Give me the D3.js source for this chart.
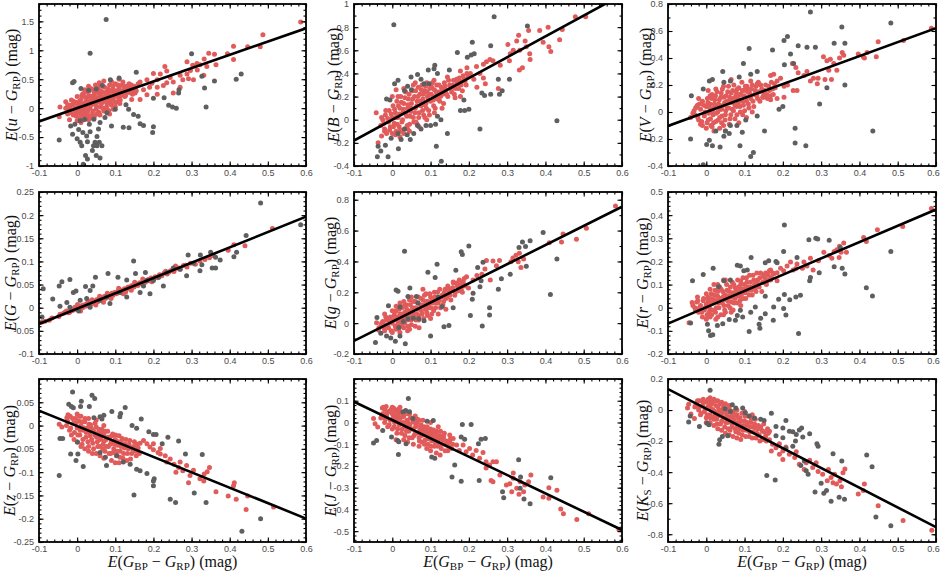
<!DOCTYPE html>
<html>
<head>
<meta charset="utf-8">
<script src="https://cdn.jsdelivr.net/npm/d3@7"></script>
<style>
  html, body { margin: 0; padding: 0; background: #fff; }
  svg { display: block; }
  .tick text { font-family: "Liberation Sans", Arial, sans-serif; font-size: 9px; fill: #4a4a4a; }
  .tick line { stroke: #000; stroke-width: 1.1; }
  .lbl { font-family: "Liberation Serif", "DejaVu Serif", serif; font-size: 16px; fill: #111; }
</style>
</head>
<body>
<svg id="chart" width="941" height="571"></svg>
<script>
// x axis is E(GBP - GRP) for every panel
const xDomain = [-0.1, 0.6];
const xTickLabels = [-0.1, 0, 0.1, 0.2, 0.3, 0.4, 0.5, 0.6];

// panel order: u, B, V / G, g, r / z, J, Ks
const yDomains = [[-1, 1.8], [-0.4, 1], [-0.4, 0.8], [-0.1, 0.25], [-0.2, 0.85], [-0.2, 0.5], [-0.25, 0.1], [-0.55, 0.2], [-0.85, 0.2]];
const yTickLabels = [
  [-1, -0.5, 0, 0.5, 1, 1.5],
  [-0.4, -0.2, 0, 0.2, 0.4, 0.6, 0.8, 1],
  [-0.4, -0.2, 0, 0.2, 0.4, 0.6, 0.8],
  [-0.1, -0.05, 0, 0.05, 0.1, 0.15, 0.2, 0.25],
  [-0.2, 0, 0.2, 0.4, 0.6, 0.8],
  [-0.2, -0.1, 0, 0.1, 0.2, 0.3, 0.4, 0.5],
  [-0.25, -0.2, -0.15, -0.1, -0.05, 0, 0.05],
  [-0.5, -0.4, -0.3, -0.2, -0.1, 0, 0.1],
  [-0.8, -0.6, -0.4, -0.2, 0, 0.2]
];
const yMajorStep = [0.5, 0.2, 0.2, 0.05, 0.2, 0.1, 0.05, 0.1, 0.2];
const yMinorStep = [0.1, 0.1, 0.1, 0.01, 0.1, 0.02, 0.01, 0.02, 0.1];
const bandNames = ['u', 'B', 'V', 'G', 'g', 'r', 'z', 'J', 'K'];
const bandSubs = ['', '', '', '', '', '', '', '', 'S'];
const slopes = [2.3, 1.8, 1.035, 0.331, 1.243, 0.704, -0.331, -0.843, -1.271];
const intercepts = [0.0, 0.0, 0.0, -0.002, 0.009, 0.002, -0.001, 0.011, 0.008];

// ---- E(u - GRP)
const redU = [[-0.045,0.02],[-0.047,-0.15],[-0.03,0.11],[-0.015,0.14],[-0.018,-0.08],[-0.02,-0.2],[0.165,0.45],[0.183,0.49],[0.2,0.6],[0.21,0.49],[0.218,0.59],[0.23,0.72],[0.235,0.64],[0.244,0.53],[0.226,0.39],[0.21,0.36],[0.19,0.36],[0.174,0.32],[0.183,0.23],[0.152,0.26],[0.143,0.15],[0.165,0.15],[0.21,0.24],[0.252,0.26],[0.27,0.36],[0.277,0.49],[0.288,0.8],[0.288,0.59],[0.297,0.65],[0.303,0.74],[0.314,0.77],[0.322,0.75],[0.333,0.85],[0.345,0.95],[0.36,0.93],[0.34,0.72],[0.364,0.75],[0.315,0.66],[0.292,0.51],[0.27,0.57],[0.252,0.45],[0.394,0.94],[0.41,1.07],[0.41,0.84],[0.447,1.06],[0.48,1.06],[0.487,1.27],[0.586,1.49],[0.332,0.57],[0.305,0.49],[0.235,0.44],[0.196,0.43],
  [-0.02,0.05],[-0.015,-0.05],[-0.01,0.12],[-0.01,-0.12],[-0.005,0.0],[0,0.08],[0,-0.08],[0.0,0.2],[0.005,-0.18],[0.008,0.04],[0.01,0.15],[0.012,-0.04],[0.015,0.25],[0.018,0.08],[0.02,-0.12],[0.022,0.0],[0.025,0.18],[0.028,-0.06],[0.03,0.1],[0.032,0.3],[0.035,0.04],[0.038,0.2],[0.04,-0.1],[0.042,0.14],[0.045,0.26],[0.048,0.06],[0.05,-0.02],[0.052,0.18],[0.055,0.34],[0.058,0.1],[0.06,0.22],[0.062,0.02],[0.065,0.28],[0.068,0.15],[0.07,-0.05],[0.072,0.36],[0.075,0.2],[0.078,0.08],[0.08,0.28],[0.083,0.14],[0.085,0.4],[0.088,0.22],[0.09,0.05],[0.093,0.32],[0.095,0.17],[0.098,0.26],[0.1,0.42],[0.102,0.1],[0.105,0.3],[0.108,0.2],[0.11,0.36],[0.113,0.14],[0.116,0.26],[0.12,0.45],[0.122,0.32],[0.125,0.2],[0.128,0.38],[0.132,0.28],[0.136,0.42],[0.14,0.33],[0.145,0.24],[0.15,0.38],[0.155,0.3],[0.16,0.42],[0.0,-0.22],[0.01,-0.25],[0.03,-0.2],[0.045,-0.15],[0.06,-0.12],[0.075,-0.02],[0.085,-0.1],[0.095,-0.02],[-0.03,0.0],[-0.025,-0.1],[0.03,0.38],[0.02,0.32],[0.06,0.4],[0.07,0.47],[0.09,0.46],[0.11,0.5]];
const redUCore = [[-0.025,0.06],[-0.022,-0.04],[-0.018,0.0],[-0.012,0.06],[-0.008,-0.06],[-0.004,0.1],[-0.002,-0.14],[0.002,0.03],[0.004,-0.03],[0.006,0.12],[0.009,-0.1],[0.011,0.07],[0.014,-0.16],[0.016,0.01],[0.019,0.2],[0.021,-0.06],[0.023,0.12],[0.026,0.05],[0.029,-0.13],[0.031,0.22],[0.033,0.0],[0.036,0.15],[0.039,0.07],[0.041,-0.05],[0.043,0.32],[0.046,0.2],[0.049,0.12],[0.051,0.03],[0.054,0.27],[0.057,-0.07],[0.059,0.16],[0.061,0.3],[0.064,0.08],[0.066,0.2],[0.069,0.37],[0.071,0.12],[0.074,0.27],[0.077,0.02],[0.079,0.17],[0.081,0.33],[0.084,0.22],[0.087,0.08],[0.089,0.3],[0.092,0.14],[0.094,0.38],[0.097,0.22],[0.099,0.1],[0.101,0.3],[0.104,0.24],[0.107,0.4],[0.109,0.16],[0.112,0.3],[0.115,0.22],[0.118,0.4],[0.121,0.26],[0.124,0.36],[0.127,0.22],[0.13,0.33],[0.134,0.37],[0.138,0.27],[0.142,0.4],[0.147,0.32],[0.152,0.34],[0.012,0.22],[0.024,0.28],[0.036,0.34],[0.048,0.4],[0.058,0.44],[0.018,-0.2],[0.038,-0.17],[0.052,-0.1],[0.068,0.0],[0.083,-0.04],[0.1,0.03],[0.112,0.08]];
const greyU = [[0.076,1.53],[0.034,0.95],[-0.012,0.44],[-0.008,0.46],[0.01,0.34],[0.03,0.31],[0.05,0.33],[0.066,0.39],[0.11,0.52],[0.087,0.49],[0.155,0.62],[0.3,0.94],[0.327,0.55],[0.36,0.47],[0.43,0.59],[0.417,0.5],[0.334,0.35],[0.338,0.02],[0.2,0.17],[0.228,0.18],[0.24,0.05],[0.25,0.02],[0.26,0.0],[0.267,0.32],[0.266,0.26],[0.2,-0.32],[0.198,-0.42],[0.121,-0.33],[0.136,-0.34],[0.148,-0.11],[0.16,-0.14],[0.165,-0.27],[0.174,-0.3],[0.135,-0.02],[0.128,0.06],[0.1,-0.02],[0.09,-0.31],[0.078,-0.08],[0.073,-0.16],[0.06,-0.25],[0.056,-0.36],[0.052,-0.49],[0.047,-0.59],[0.043,-0.65],[0.04,-0.73],[0.05,-0.82],[0.06,-0.86],[0.027,-0.88],[0.016,-0.97],[0.022,-0.82],[0.012,-0.65],[0.008,-0.59],[0,-0.53],[-0.012,-0.45],[-0.017,-0.31],[-0.006,-0.28],[0.004,-0.37],[0.015,-0.42],[0.025,-0.48],[0.034,-0.41],[0.032,-0.28],[0.044,-0.19],[0.02,-0.19],[0.008,-0.22],[-0.047,-0.55],[0.027,-0.58],[0.052,-0.65],[0.058,-0.59],[0.065,-0.65]];

// ---- E(B - GRP)
const redB = [[-0.042,0.06],[-0.037,-0.2],[-0.028,-0.14],[-0.02,-0.1],[0.238,0.48],[0.246,0.5],[0.255,0.52],[0.263,0.51],[0.229,0.4],[0.238,0.36],[0.243,0.31],[0.22,0.46],[0.277,0.27],[0.302,0.65],[0.308,0.57],[0.316,0.6],[0.325,0.68],[0.33,0.73],[0.333,0.6],[0.347,0.68],[0.35,0.63],[0.356,0.77],[0.359,0.57],[0.332,0.43],[0.34,0.45],[0.36,0.52],[0.306,0.51],[0.282,0.47],[0.385,0.77],[0.407,0.8],[0.394,0.67],[0.409,0.63],[0.414,0.59],[0.437,0.69],[0.444,0.78],[0.478,0.89],[0.505,0.89],[0.204,0.4],[0.195,0.45],[0.178,0.42],[0.213,0.35],[0.221,0.28],[0.161,0.28],[0.169,0.33],[0.144,0.37],[0.164,0.19],[0.178,0.2],
  [-0.03,-0.05],[-0.025,0.0],[-0.02,-0.08],[-0.018,0.04],[-0.015,-0.12],[-0.01,-0.02],[-0.008,0.08],[-0.005,-0.06],[0,0.02],[0,-0.12],[0.002,0.12],[0.005,-0.03],[0.008,0.06],[0.01,-0.1],[0.012,0.16],[0.015,0.02],[0.018,-0.06],[0.02,0.1],[0.022,0.2],[0.025,-0.02],[0.028,0.06],[0.03,0.14],[0.032,-0.08],[0.035,0.24],[0.038,0.03],[0.04,0.1],[0.042,0.18],[0.045,-0.04],[0.048,0.07],[0.05,0.14],[0.052,0.25],[0.055,0.02],[0.058,0.2],[0.06,0.1],[0.062,-0.02],[0.065,0.16],[0.068,0.28],[0.07,0.06],[0.072,0.22],[0.075,0.12],[0.078,0.3],[0.08,0.18],[0.082,0.04],[0.085,0.25],[0.088,0.14],[0.09,0.32],[0.092,0.2],[0.095,0.08],[0.098,0.27],[0.1,0.16],[0.102,0.22],[0.105,0.32],[0.108,0.12],[0.11,0.26],[0.113,0.2],[0.116,0.3],[0.12,0.24],[0.124,0.16],[0.128,0.28],[0.132,0.22],[0.136,0.32],[0.14,0.26],[0.145,0.2],[0.15,0.3],[0.155,0.24],[0.16,0.34],[0.165,0.27],[0.17,0.31],[0.175,0.36],[0.18,0.3],[0.185,0.38],[0.19,0.33],[0.195,0.4],[0.0,0.2],[0.01,0.26],[0.02,-0.15],[0.03,-0.12],[0.045,-0.1],[0.06,0.32],[0.07,-0.06],[0.09,0.0],[0.11,0.06],[0.13,0.1]];
const redBCore = [[-0.028,0.02],[-0.022,-0.03],[-0.017,0.08],[-0.012,0.01],[-0.007,-0.09],[-0.003,0.05],[0.003,-0.06],[0.006,0.09],[0.009,0.02],[0.013,-0.04],[0.016,0.12],[0.019,0.05],[0.021,-0.09],[0.024,0.15],[0.027,0.0],[0.029,0.09],[0.033,0.19],[0.036,0.05],[0.039,-0.05],[0.041,0.13],[0.044,0.22],[0.047,0.03],[0.049,0.1],[0.053,0.18],[0.056,-0.02],[0.059,0.06],[0.061,0.25],[0.064,0.12],[0.067,0.2],[0.069,0.02],[0.073,0.16],[0.076,0.26],[0.079,0.08],[0.081,0.22],[0.084,0.13],[0.087,0.29],[0.089,0.1],[0.091,0.24],[0.094,0.17],[0.097,0.04],[0.099,0.22],[0.103,0.28],[0.107,0.17],[0.109,0.34],[0.112,0.1],[0.115,0.24],[0.118,0.18],[0.122,0.3],[0.126,0.2],[0.13,0.26],[0.134,0.14],[0.138,0.29],[0.142,0.22],[0.147,0.34],[0.152,0.27],[0.158,0.3],[0.162,0.22],[0.168,0.35],[0.173,0.27],[0.178,0.33],[0.183,0.25],[0.188,0.35],[0.193,0.3],[0.198,0.37],[0.015,0.2],[0.03,0.27],[0.055,0.3],[0.008,-0.13],[0.025,-0.1],[0.04,-0.08],[0.065,-0.04],[0.085,0.02]];
const greyB = [[0.004,0.82],[0.266,0.89],[0.006,0.31],[-0.015,0.18],[-0.006,0.17],[-0.037,-0.23],[-0.039,-0.32],[-0.03,-0.27],[-0.011,-0.32],[-0.018,-0.22],[0.016,-0.25],[0.023,-0.17],[0.039,-0.13],[0.047,-0.17],[0.056,-0.12],[0.075,-0.08],[0.088,-0.05],[0.1,-0.05],[0.113,-0.04],[0.127,0.0],[0.118,0.03],[0.115,-0.23],[0.128,-0.36],[0.144,-0.12],[0.178,0.08],[0.189,0.08],[0.2,0.09],[0.229,-0.08],[0.187,0.17],[0.234,0.23],[0.241,0.21],[0.257,0.22],[0.28,0.22],[0.287,0.25],[0.277,0.35],[0.306,0.35],[0.257,0.64],[0.209,0.67],[0.214,0.57],[0.206,0.56],[0.17,0.58],[0.196,0.54],[0.111,0.47],[0.109,0.44],[0.094,0.43],[0.118,0.4],[0.075,0.35],[0.04,0.29],[0.05,0.26],[0.032,0.25],[0.015,0.34],[0.066,0.39],[0.083,0.31],[0.096,0.31],[0.149,0.43],[0.353,0.81],[0.43,-0.01],[0.049,0.37],[0.015,-0.12],[-0.003,-0.16],[0.032,-0.08],[0.066,-0.05]];

// ---- E(V - GRP)
const redV = [[-0.041,-0.04],[-0.032,0.01],[-0.023,0.05],[-0.015,-0.09],[0.168,0.27],[0.176,0.28],[0.185,0.23],[0.194,0.25],[0.203,0.19],[0.212,0.2],[0.225,0.36],[0.234,0.33],[0.24,0.29],[0.255,0.27],[0.263,0.3],[0.227,0.16],[0.237,0.16],[0.185,0.1],[0.168,0.09],[0.15,0.11],[0.203,0.11],[0.272,0.23],[0.28,0.25],[0.29,0.21],[0.292,0.25],[0.306,0.41],[0.315,0.38],[0.324,0.39],[0.333,0.36],[0.341,0.31],[0.348,0.4],[0.355,0.44],[0.359,0.42],[0.32,0.31],[0.327,0.24],[0.31,0.24],[0.397,0.43],[0.41,0.41],[0.413,0.4],[0.42,0.44],[0.444,0.41],[0.449,0.52],[0.515,0.53],[0.588,0.62],[0.133,0.21],[0.116,0.23],[0.107,0.18],
  [-0.03,-0.02],[-0.025,0.04],[-0.02,-0.06],[-0.015,0.02],[-0.01,-0.1],[-0.01,0.08],[-0.005,-0.03],[0,0.04],[0,-0.12],[0.003,0.1],[0.005,-0.06],[0.008,0.0],[0.01,0.06],[0.012,-0.1],[0.015,0.13],[0.018,-0.02],[0.02,0.03],[0.022,0.09],[0.025,-0.07],[0.028,0.15],[0.03,0.0],[0.032,0.06],[0.035,-0.04],[0.038,0.11],[0.04,0.02],[0.042,0.17],[0.045,-0.1],[0.048,0.07],[0.05,-0.02],[0.052,0.12],[0.055,0.03],[0.058,0.19],[0.06,0.08],[0.062,-0.05],[0.065,0.14],[0.068,0.02],[0.07,0.1],[0.072,0.2],[0.075,0.05],[0.078,0.15],[0.08,-0.02],[0.082,0.1],[0.085,0.18],[0.088,0.04],[0.09,0.13],[0.093,0.22],[0.095,0.08],[0.098,0.16],[0.1,0.01],[0.103,0.11],[0.106,0.19],[0.11,0.06],[0.113,0.14],[0.116,0.1],[0.12,0.2],[0.124,0.04],[0.128,0.16],[0.132,0.12],[0.136,0.22],[0.14,0.08],[0.145,0.17],[0.15,0.13],[0.155,0.2],[0.16,0.1],[0.165,0.16],[0.17,0.22],[0.175,0.13],[0.18,0.18],[0.005,0.16],[0.02,-0.14],[0.035,-0.12],[0.05,-0.14],[0.065,0.24],[0.085,-0.08],[0.105,-0.04],[0.12,0.0],[-0.02,0.1]];
const redVCore = [[-0.035,-0.01],[-0.028,0.03],[-0.022,-0.04],[-0.018,0.06],[-0.012,-0.07],[-0.007,0.05],[-0.003,0.0],[0.002,-0.08],[0.004,0.07],[0.006,-0.01],[0.009,0.03],[0.011,-0.05],[0.014,0.1],[0.016,0.01],[0.019,-0.08],[0.021,0.06],[0.024,0.12],[0.026,-0.01],[0.029,0.04],[0.031,-0.06],[0.034,0.09],[0.036,0.02],[0.039,0.14],[0.041,-0.03],[0.044,0.05],[0.046,0.11],[0.049,-0.06],[0.051,0.01],[0.054,0.08],[0.056,0.15],[0.059,0.03],[0.061,0.11],[0.064,-0.02],[0.066,0.07],[0.069,0.16],[0.071,0.01],[0.074,0.09],[0.077,0.12],[0.079,0.04],[0.081,0.17],[0.084,0.07],[0.087,0.13],[0.089,0.0],[0.091,0.09],[0.094,0.16],[0.097,0.05],[0.099,0.12],[0.102,0.19],[0.105,0.08],[0.108,0.15],[0.111,0.03],[0.115,0.12],[0.118,0.17],[0.122,0.08],[0.126,0.13],[0.13,0.19],[0.134,0.1],[0.138,0.15],[0.142,0.2],[0.147,0.11],[0.152,0.16],[0.158,0.13],[0.163,0.19],[0.168,0.12],[0.173,0.17],[0.178,0.21],[0.01,0.12],[0.025,0.17],[0.045,0.19],[0.015,-0.11],[0.04,-0.08],[0.06,-0.09],[0.075,-0.05],[0.095,-0.02]];
const greyV = [[0.272,0.74],[0.482,0.66],[0.354,0.63],[0.334,0.51],[0.362,0.51],[0.263,0.48],[0.24,0.49],[0.285,0.48],[0.212,0.56],[0.203,0.53],[0.22,0.43],[0.204,0.35],[0.228,0.36],[0.173,0.46],[0.112,0.47],[0.097,0.36],[0.043,0.3],[0.008,0.23],[0.016,0.24],[-0.008,0.17],[-0.039,0.12],[0.046,0.22],[0.063,0.23],[0.086,0.26],[0.116,0.28],[0.133,0.3],[0.315,0.18],[0.296,0.06],[0.362,0.2],[-0.041,-0.2],[0.001,-0.24],[0.008,-0.21],[0.016,-0.25],[0.036,-0.26],[-0.008,-0.39],[0.088,-0.25],[0.116,-0.33],[0.123,-0.3],[0.063,-0.1],[0.06,-0.16],[0.046,-0.18],[0.05,-0.14],[0.025,-0.14],[0.103,-0.06],[0.133,-0.03],[0.152,-0.14],[0.19,0.02],[0.2,0.04],[0.232,-0.12],[0.232,-0.23],[0.26,-0.25],[0.435,-0.14],[0.08,-0.1],[0.094,-0.15]];

// ---- E(G - GRP)
const redGG = [[-0.092,-0.031],[-0.084,-0.029],[-0.073,-0.027],[-0.066,-0.022],[-0.048,-0.019],[-0.036,-0.012],[-0.028,-0.007],[-0.022,-0.011],[-0.017,-0.004],[-0.012,-0.006],[-0.006,0.001],[-0.002,-0.004],[0.003,0.002],[0.006,-0.003],[0.011,0.004],[0.014,0.0],[0.017,0.006],[0.021,0.003],[0.024,0.008],[0.027,0.004],[0.031,0.009],[0.034,0.006],[0.037,0.012],[0.041,0.009],[0.044,0.014],[0.047,0.011],[0.051,0.017],[0.054,0.013],[0.057,0.019],[0.061,0.016],[0.064,0.021],[0.067,0.018],[0.071,0.024],[0.074,0.02],[0.077,0.026],[0.081,0.023],[0.084,0.028],[0.087,0.025],[0.091,0.031],[0.094,0.027],[0.098,0.033],[0.103,0.03],[0.107,0.036],[0.111,0.033],[0.115,0.038],[0.119,0.035],[0.124,0.041],[0.129,0.039],[0.134,0.045],[0.139,0.042],[0.144,0.048],[0.149,0.045],[0.154,0.051],[0.159,0.048],[0.164,0.054],[0.169,0.051],[0.174,0.057],[0.179,0.055],[0.184,0.06],[0.189,0.058],[0.194,0.064],[0.199,0.061],[0.205,0.067],[0.211,0.065],[0.216,0.071],[0.222,0.069],[0.228,0.075],[0.236,0.073],[0.245,0.08],[0.254,0.078],[0.262,0.085],[0.27,0.083],[0.279,0.091],[0.288,0.088],[0.297,0.096],[0.31,0.094],[0.322,0.101],[0.335,0.104],[0.347,0.108],[0.358,0.112],[0.396,0.124],[0.411,0.136],[0.44,0.134],[0.512,0.171],[0.009,-0.007],[0.029,0.014],[0.049,0.006],[0.059,0.025],[0.069,0.012],[0.089,0.02],[0.109,0.042],[0.127,0.034],[0.151,0.055],[0.001,0.007],[0.039,0.017],[0.079,0.031],[0.121,0.03],[0.142,0.038],[0.172,0.062],[0.196,0.056],[0.232,0.079],[0.258,0.09]];
const redGGCore = [[-0.045,-0.014],[-0.032,-0.01],[-0.019,-0.009],[-0.008,-0.002],[0.004,-0.001],[0.013,0.002],[0.019,0.005],[0.026,0.006],[0.033,0.01],[0.039,0.011],[0.046,0.013],[0.053,0.015],[0.06,0.019],[0.066,0.02],[0.073,0.023],[0.08,0.025],[0.086,0.027],[0.093,0.029],[0.1,0.031],[0.106,0.034],[0.113,0.036],[0.122,0.038],[0.132,0.043],[0.141,0.046],[0.152,0.049],[0.162,0.052],[0.177,0.058],[0.187,0.061],[0.203,0.065],[0.219,0.07],[0.241,0.077],[0.266,0.086],[0.284,0.092]];
const greyGG = [[0.481,0.226],[0.586,0.179],[0.418,0.12],[0.411,0.11],[0.443,0.156],[0.35,0.12],[0.354,0.086],[0.363,0.086],[0.363,0.109],[0.323,0.114],[0.327,0.093],[0.305,0.096],[0.291,0.114],[0.27,0.083],[0.252,0.086],[0.235,0.076],[0.214,0.066],[0.2,0.059],[0.183,0.059],[0.174,0.047],[0.148,0.101],[0.153,0.074],[0.179,0.076],[0.081,0.074],[0.107,0.066],[0.13,0.06],[0.048,0.066],[0.041,0.047],[0.034,0.037],[0.022,0.046],[-0.003,0.036],[-0.01,0.033],[-0.019,0.061],[-0.04,0.056],[-0.047,0.047],[-0.064,0.019],[-0.089,0.041],[-0.092,-0.02],[-0.045,0.003],[-0.027,0.011],[-0.019,0.001],[0.008,0.016],[0.025,0.02],[0.06,0.016],[0.086,0.009],[0.112,0.033],[0.13,0.023],[0.165,0.033],[0.191,0.03],[0.226,0.047],[0.287,0.069],[0.322,0.08],[0.375,0.103],[0.004,-0.007],[0.034,0.001],[0.077,0.023]];

// ---- E(g - GRP)
const redSg = [[0.507,0.615],[0.481,0.543],[0.442,0.526],[0.446,0.577],[0.41,0.521],[0.583,0.76],[0.31,0.398],[0.315,0.423],[0.323,0.44],[0.329,0.398],[0.336,0.36],[0.343,0.415],[0.332,0.453],[0.28,0.406],[0.263,0.402],[0.246,0.406],[0.272,0.372],[0.256,0.279],[0.234,0.317],[0.242,0.351],[0.221,0.309],[0.211,0.279],[0.194,0.3],[0.185,0.257],[0.176,0.215],[0.199,0.228],[0.159,0.266],[0.15,0.223],[-0.036,-0.045],[-0.041,0.002],[-0.023,-0.006],
  [-0.03,-0.02],[-0.025,0.01],[-0.02,-0.05],[-0.015,0.02],[-0.01,-0.03],[-0.005,0.04],[0,0.0],[0,-0.06],[0.005,0.05],[0.008,-0.02],[0.01,0.08],[0.013,0.02],[0.016,-0.04],[0.02,0.06],[0.022,0.0],[0.025,0.1],[0.028,0.03],[0.03,-0.03],[0.033,0.07],[0.036,0.12],[0.04,0.02],[0.042,0.08],[0.045,0.15],[0.048,0.04],[0.05,-0.01],[0.053,0.1],[0.056,0.06],[0.06,0.14],[0.062,0.02],[0.065,0.09],[0.068,0.17],[0.07,0.05],[0.073,0.12],[0.076,0.08],[0.08,0.15],[0.082,0.03],[0.085,0.11],[0.088,0.19],[0.09,0.07],[0.093,0.14],[0.096,0.1],[0.1,0.17],[0.103,0.06],[0.106,0.13],[0.11,0.2],[0.113,0.1],[0.116,0.16],[0.12,0.13],[0.124,0.22],[0.128,0.17],[0.132,0.12],[0.136,0.2],[0.14,0.16],[0.145,0.24],[0.15,0.18],[0.155,0.21],[0.16,0.26],[0.165,0.2],[0.17,0.24],[0.175,0.28],[0.18,0.22],[0.185,0.27],[0.19,0.24],[0.02,0.13],[0.04,-0.05],[0.06,-0.02],[0.08,0.22],[0.1,0.03],[0.12,0.06],[0.14,0.09],[0.0,0.08],[-0.02,0.06]];
const redSgCore = [[-0.035,-0.03],[-0.028,0.0],[-0.022,-0.03],[-0.017,0.04],[-0.012,-0.01],[-0.007,0.02],[-0.003,-0.05],[0.003,0.02],[0.006,0.07],[0.009,-0.04],[0.012,0.04],[0.015,0.0],[0.018,0.09],[0.021,0.03],[0.024,-0.02],[0.027,0.06],[0.03,0.11],[0.032,0.0],[0.035,0.04],[0.038,0.09],[0.041,-0.02],[0.044,0.06],[0.047,0.12],[0.049,0.02],[0.052,0.08],[0.055,0.14],[0.058,0.04],[0.061,0.1],[0.064,0.06],[0.067,0.13],[0.069,0.02],[0.072,0.09],[0.075,0.16],[0.078,0.06],[0.081,0.12],[0.084,0.18],[0.087,0.09],[0.089,0.14],[0.092,0.05],[0.095,0.12],[0.098,0.19],[0.101,0.1],[0.104,0.15],[0.108,0.08],[0.111,0.17],[0.115,0.13],[0.118,0.2],[0.122,0.15],[0.126,0.1],[0.13,0.18],[0.134,0.14],[0.138,0.22],[0.143,0.17],[0.148,0.21],[0.153,0.15],[0.158,0.23],[0.163,0.18],[0.168,0.26],[0.173,0.21],[0.178,0.25],[0.183,0.2],[0.188,0.29],[0.01,0.11],[0.03,0.14],[0.05,0.17],[0.02,-0.06],[0.045,-0.04],[0.07,-0.03]];
const greySg = [[0.032,0.466],[0.394,0.587],[0.43,0.415],[0.413,0.185],[0.34,0.526],[0.348,0.496],[0.36,0.534],[0.331,0.49],[0.35,0.368],[0.308,0.317],[0.285,0.287],[0.277,0.219],[0.254,0.1],[0.254,0.053],[0.235,-0.019],[0.232,0.274],[0.229,0.236],[0.237,0.394],[0.223,0.36],[0.2,0.5],[0.18,0.462],[0.183,0.445],[0.166,0.343],[0.117,0.381],[0.093,0.33],[0.112,0.296],[0.211,0.194],[0.204,0.049],[0.209,0.155],[0.159,0.1],[0.148,-0.015],[0.135,-0.023],[0.1,-0.083],[0.083,0.015],[0.069,0.028],[0.055,0.032],[0.041,0.028],[0.029,0.011],[0.017,-0.028],[0.008,-0.117],[-0.004,-0.096],[-0.015,-0.083],[-0.03,-0.066],[-0.044,-0.126],[0.034,-0.134],[0.02,-0.083],[0.01,0.215],[0.015,0.206],[0.041,0.172],[0.046,0.228],[0.063,0.172],[0.067,0.13],[-0.01,0.113],[0.02,0.104],[0.13,0.108],[0.12,0.17],[-0.04,0.036]];

// ---- E(r - GRP)
const redSr = [[-0.045,-0.065],[-0.037,0.023],[-0.023,0.046],[0.168,0.163],[0.176,0.146],[0.185,0.151],[0.194,0.171],[0.202,0.16],[0.211,0.18],[0.22,0.197],[0.227,0.163],[0.234,0.169],[0.237,0.189],[0.251,0.171],[0.255,0.197],[0.263,0.18],[0.272,0.214],[0.279,0.163],[0.293,0.203],[0.307,0.24],[0.321,0.226],[0.328,0.214],[0.334,0.243],[0.341,0.251],[0.348,0.266],[0.359,0.28],[0.352,0.24],[0.347,0.217],[0.366,0.24],[0.411,0.303],[0.418,0.286],[0.447,0.337],[0.513,0.351],[0.588,0.429],[0.15,0.14],[0.159,0.117],[0.185,0.117],[0.133,0.117],
  [-0.03,0.0],[-0.025,0.025],[-0.02,-0.02],[-0.015,0.01],[-0.01,-0.04],[-0.008,0.03],[-0.005,-0.01],[0,0.015],[0,-0.05],[0.004,0.045],[0.007,-0.02],[0.01,0.02],[0.013,0.06],[0.016,-0.01],[0.02,0.035],[0.023,0.075],[0.026,0.0],[0.03,0.05],[0.032,0.02],[0.035,0.09],[0.038,-0.03],[0.04,0.04],[0.043,0.07],[0.046,0.01],[0.05,0.055],[0.053,0.1],[0.056,0.03],[0.06,0.07],[0.062,0.0],[0.065,0.045],[0.068,0.11],[0.07,0.06],[0.073,0.02],[0.076,0.085],[0.08,0.05],[0.082,0.12],[0.085,0.07],[0.088,0.03],[0.09,0.1],[0.093,0.06],[0.096,0.13],[0.1,0.08],[0.103,0.04],[0.106,0.11],[0.11,0.075],[0.113,0.14],[0.116,0.09],[0.12,0.055],[0.124,0.12],[0.128,0.085],[0.132,0.15],[0.136,0.1],[0.14,0.13],[0.145,0.07],[0.15,0.11],[0.155,0.15],[0.16,0.12],[0.165,0.16],[0.17,0.13],[0.01,-0.04],[0.03,-0.04],[0.05,-0.02],[0.07,-0.01],[0.09,0.01],[0.02,0.1],[0.045,0.12],[0.0,0.06]];
const redSrCore = [[-0.035,0.01],[-0.028,-0.01],[-0.022,0.03],[-0.018,0.0],[-0.012,-0.02],[-0.007,0.04],[-0.003,0.0],[0.002,-0.03],[0.005,0.03],[0.008,0.0],[0.012,0.04],[0.014,-0.03],[0.018,0.02],[0.021,0.055],[0.024,-0.02],[0.027,0.03],[0.03,0.07],[0.033,0.0],[0.036,0.04],[0.039,0.08],[0.042,0.02],[0.045,0.05],[0.048,-0.01],[0.051,0.035],[0.054,0.075],[0.057,0.01],[0.06,0.05],[0.063,0.09],[0.066,0.025],[0.069,0.065],[0.072,0.1],[0.075,0.04],[0.078,0.07],[0.081,0.02],[0.084,0.09],[0.087,0.05],[0.09,0.115],[0.093,0.08],[0.096,0.04],[0.099,0.1],[0.102,0.065],[0.105,0.13],[0.108,0.09],[0.112,0.055],[0.115,0.11],[0.118,0.075],[0.122,0.14],[0.126,0.1],[0.13,0.07],[0.134,0.12],[0.138,0.09],[0.142,0.15],[0.147,0.11],[0.152,0.13],[0.157,0.1],[0.162,0.14],[0.168,0.12],[0.174,0.15],[0.01,0.08],[0.03,0.1],[0.05,0.12],[0.025,-0.05],[0.045,-0.03],[0.065,-0.02]];
const greySr = [[0.204,0.357],[0.268,0.294],[0.286,0.3],[0.291,0.297],[0.321,0.291],[0.35,0.26],[0.482,0.243],[0.418,0.086],[0.434,0.051],[0.355,0.171],[0.362,0.146],[0.334,0.177],[0.295,0.151],[0.272,0.131],[0.27,0.117],[0.246,0.054],[0.241,-0.111],[0.234,0.046],[0.218,0.034],[0.208,-0.031],[0.202,-0.003],[0.204,0.057],[0.189,0.037],[0.176,0.003],[0.175,-0.054],[0.138,-0.071],[0.14,-0.089],[0.112,-0.103],[0.154,-0.026],[0.154,0.049],[0.154,0.194],[0.163,0.203],[0.182,0.2],[0.185,0.194],[0.202,0.243],[0.237,0.217],[0.117,0.217],[0.089,0.18],[0.098,0.16],[0.107,0.163],[0.081,0.183],[0.063,0.12],[0.046,0.117],[0.032,0.091],[0.018,0.171],[-0.008,0.143],[-0.036,0.117],[-0.041,-0.066],[0.003,-0.071],[0.006,-0.1],[0.011,-0.12],[0.017,-0.117],[0.029,-0.077],[0.043,-0.069],[0.06,-0.051],[0.076,-0.054],[0.081,-0.034],[0.095,-0.04],[0.089,-0.011],[0.116,-0.02],[0.128,0.003],[0.142,-0.046]];

// ---- E(z - GRP)
const redSz = [[-0.047,0.003],[-0.04,-0.003],[-0.027,0.017],[-0.024,0.023],[0.165,-0.038],[0.174,-0.032],[0.183,-0.039],[0.191,-0.046],[0.2,-0.052],[0.212,-0.058],[0.218,-0.061],[0.231,-0.065],[0.235,-0.078],[0.244,-0.072],[0.254,-0.083],[0.266,-0.09],[0.259,-0.1],[0.277,-0.097],[0.27,-0.078],[0.287,-0.086],[0.296,-0.107],[0.305,-0.096],[0.322,-0.114],[0.333,-0.104],[0.341,-0.099],[0.347,-0.09],[0.332,-0.119],[0.292,-0.123],[0.364,-0.142],[0.396,-0.151],[0.41,-0.129],[0.412,-0.123],[0.417,-0.158],[0.447,-0.151],[0.443,-0.18],[0.515,-0.175],[0.218,-0.049],[0.2,-0.039],
  [-0.025,0.01],[-0.02,-0.01],[-0.018,0.02],[-0.015,-0.02],[-0.01,0.005],[-0.008,-0.03],[-0.005,0.015],[0,-0.005],[0,-0.035],[0.004,0.01],[0.007,-0.02],[0.01,0.0],[0.013,-0.04],[0.016,-0.01],[0.02,0.008],[0.023,-0.025],[0.026,-0.005],[0.03,-0.045],[0.032,-0.015],[0.035,0.002],[0.038,-0.03],[0.04,-0.01],[0.043,-0.05],[0.046,-0.02],[0.05,-0.003],[0.053,-0.035],[0.056,-0.015],[0.06,-0.045],[0.062,-0.025],[0.065,-0.008],[0.068,-0.04],[0.07,-0.02],[0.073,-0.055],[0.076,-0.03],[0.08,-0.012],[0.082,-0.045],[0.085,-0.025],[0.088,-0.06],[0.09,-0.035],[0.093,-0.018],[0.096,-0.05],[0.1,-0.03],[0.103,-0.065],[0.106,-0.042],[0.11,-0.022],[0.113,-0.055],[0.116,-0.035],[0.12,-0.07],[0.124,-0.048],[0.128,-0.03],[0.132,-0.06],[0.136,-0.04],[0.14,-0.072],[0.145,-0.05],[0.15,-0.035],[0.155,-0.065],[0.16,-0.048],[0.0,0.025],[0.01,0.02],[0.03,0.015],[0.05,0.012],[0.07,0.0],[0.02,-0.05],[0.04,-0.06],[0.06,-0.065],[0.09,-0.075],[0.11,-0.08]];
const redSzCore = [[-0.028,0.0],[-0.023,0.02],[-0.017,-0.005],[-0.012,0.015],[-0.007,-0.015],[-0.003,0.005],[0.002,-0.02],[0.005,0.02],[0.008,-0.01],[0.012,0.008],[0.015,-0.03],[0.018,-0.005],[0.021,0.015],[0.024,-0.015],[0.028,-0.035],[0.031,0.003],[0.034,-0.022],[0.037,-0.005],[0.041,-0.038],[0.044,-0.012],[0.047,0.005],[0.051,-0.025],[0.054,-0.045],[0.057,-0.008],[0.061,-0.03],[0.064,-0.015],[0.067,-0.05],[0.071,-0.033],[0.074,-0.012],[0.077,-0.045],[0.081,-0.025],[0.084,-0.06],[0.087,-0.04],[0.091,-0.022],[0.094,-0.058],[0.098,-0.04],[0.101,-0.02],[0.105,-0.055],[0.108,-0.035],[0.112,-0.068],[0.115,-0.045],[0.118,-0.028],[0.122,-0.06],[0.126,-0.04],[0.13,-0.075],[0.134,-0.05],[0.138,-0.032],[0.143,-0.06],[0.148,-0.045],[0.153,-0.055],[0.158,-0.04],[0.163,-0.06],[0.01,-0.045],[0.03,-0.055],[0.05,-0.06],[0.07,-0.07],[0.1,-0.08]];
const greySz = [[-0.012,0.072],[0.011,0.052],[0.039,0.065],[0.046,0.058],[0.009,0.041],[-0.022,0.046],[-0.015,0.041],[-0.01,0.038],[0.032,0.041],[0.06,0.019],[0.07,0.022],[0.065,0.014],[0.091,0.03],[0.126,0.039],[0.114,0.026],[0.112,0.019],[0.144,0.0],[0.156,-0.006],[0.168,0.014],[0.188,-0.013],[0.2,-0.019],[0.207,-0.019],[0.238,-0.025],[0.223,-0.039],[0.266,-0.033],[0.284,-0.061],[0.328,-0.062],[0.156,-0.094],[0.165,-0.097],[0.183,-0.103],[0.2,-0.119],[0.2,-0.129],[0.202,-0.114],[0.149,-0.149],[0.244,-0.158],[0.258,-0.165],[0.307,-0.145],[0.338,-0.165],[0.481,-0.2],[0.432,-0.227],[-0.047,-0.107],[-0.045,-0.028],[-0.038,-0.028],[-0.017,-0.061],[0.002,-0.061],[-0.003,-0.075],[0.016,-0.088],[0.001,-0.036],[0.06,-0.058],[0.074,-0.068],[0.077,-0.086],[0.104,-0.064],[0.121,-0.078],[0.139,-0.083],[0.044,0.017]];

// ---- E(J - GRP)
const redJ = [[-0.049,0.018],[-0.045,-0.006],[-0.038,-0.021],[-0.026,0.067],[-0.016,0.074],[0.159,-0.074],[0.168,-0.104],[0.175,-0.129],[0.185,-0.104],[0.193,-0.135],[0.202,-0.12],[0.21,-0.15],[0.219,-0.129],[0.228,-0.165],[0.237,-0.138],[0.245,-0.181],[0.254,-0.196],[0.263,-0.181],[0.245,-0.209],[0.258,-0.267],[0.263,-0.273],[0.272,-0.181],[0.281,-0.242],[0.298,-0.288],[0.307,-0.282],[0.312,-0.319],[0.325,-0.303],[0.316,-0.257],[0.334,-0.273],[0.346,-0.288],[0.356,-0.273],[0.362,-0.242],[0.331,-0.33],[0.343,-0.319],[0.316,-0.233],[0.409,-0.3],[0.43,-0.312],[0.394,-0.343],[0.409,-0.349],[0.44,-0.398],[0.447,-0.42],[0.482,-0.447],[0.513,-0.42],[0.592,-0.493],[0.141,-0.104],[0.15,-0.058],[0.133,-0.074],
  [-0.025,0.04],[-0.02,0.06],[-0.02,0.0],[-0.015,0.03],[-0.012,-0.02],[-0.01,0.05],[-0.005,0.01],[0,0.04],[0,-0.03],[0.004,0.065],[0.006,0.0],[0.01,0.03],[0.012,-0.05],[0.015,0.06],[0.018,-0.01],[0.02,0.02],[0.023,0.045],[0.026,-0.03],[0.028,0.0],[0.03,0.03],[0.033,-0.06],[0.036,-0.02],[0.038,0.01],[0.04,0.04],[0.043,-0.04],[0.046,-0.01],[0.05,0.02],[0.052,-0.07],[0.055,-0.03],[0.058,0.0],[0.06,-0.05],[0.063,-0.015],[0.066,0.015],[0.07,-0.07],[0.072,-0.035],[0.075,-0.01],[0.078,-0.09],[0.08,-0.05],[0.083,-0.02],[0.086,-0.08],[0.09,-0.04],[0.093,-0.1],[0.096,-0.06],[0.1,-0.03],[0.103,-0.085],[0.106,-0.05],[0.11,-0.11],[0.113,-0.07],[0.116,-0.04],[0.12,-0.09],[0.124,-0.06],[0.128,-0.12],[0.132,-0.08],[0.136,-0.05],[0.14,-0.1],[0.145,-0.13],[0.15,-0.09],[0.155,-0.12],[0.02,0.07],[0.035,0.05],[0.06,0.03],[0.08,0.01],[0.1,0.0],[0.12,-0.02],[0.01,-0.08],[0.04,-0.09],[0.07,-0.11],[0.1,-0.13],[0.125,-0.15],[0.005,0.02],[-0.03,0.02]];
const redJCore = [[-0.028,0.03],[-0.023,0.07],[-0.018,0.015],[-0.013,0.045],[-0.008,-0.01],[-0.003,0.06],[0.002,0.02],[0.005,-0.02],[0.008,0.05],[0.011,0.01],[0.014,-0.03],[0.017,0.04],[0.021,0.0],[0.024,-0.05],[0.027,0.025],[0.031,-0.01],[0.034,0.05],[0.037,-0.04],[0.041,0.0],[0.044,-0.07],[0.047,0.02],[0.051,-0.03],[0.054,0.005],[0.057,-0.06],[0.061,-0.02],[0.064,0.0],[0.067,-0.05],[0.071,-0.085],[0.074,-0.02],[0.077,-0.06],[0.081,-0.035],[0.084,-0.1],[0.087,-0.055],[0.091,-0.02],[0.094,-0.075],[0.098,-0.045],[0.101,-0.11],[0.105,-0.065],[0.108,-0.035],[0.112,-0.09],[0.115,-0.055],[0.119,-0.11],[0.122,-0.075],[0.126,-0.04],[0.13,-0.1],[0.134,-0.065],[0.138,-0.13],[0.142,-0.085],[0.147,-0.11],[0.152,-0.075],[0.158,-0.1],[0.0,0.07],[0.02,0.05],[0.045,0.04],[0.07,0.01],[0.03,-0.08],[0.055,-0.1],[0.09,-0.12],[0.115,-0.14]];
const greyJ = [[0.042,0.11],[0.028,0.049],[0.035,0.055],[0.045,0.049],[-0.049,-0.095],[-0.041,-0.083],[-0.002,-0.067],[0.014,-0.083],[0.017,-0.089],[0.016,-0.147],[0.036,-0.098],[0.091,0.006],[0.107,0.009],[0.103,-0.159],[0.111,-0.165],[0.183,-0.009],[0.206,-0.009],[0.18,-0.067],[0.189,-0.077],[0.232,-0.077],[0.243,-0.074],[0.225,-0.098],[0.163,-0.196],[0.156,-0.251],[0.18,-0.27],[0.227,-0.267],[0.288,-0.319],[0.291,-0.346],[0.33,-0.172],[0.335,-0.251],[0.334,-0.303],[0.344,-0.352],[0.36,-0.374],[0.414,-0.254],[0.054,0.018],[-0.025,-0.037]];

// ---- E(Ks - GRP)
const redK = [[-0.046,0.038],[-0.049,0.013],[-0.04,-0.026],[-0.031,-0.055],[0.147,-0.183],[0.156,-0.157],[0.165,-0.191],[0.173,-0.221],[0.182,-0.243],[0.191,-0.217],[0.2,-0.264],[0.208,-0.238],[0.217,-0.285],[0.17,-0.264],[0.191,-0.285],[0.2,-0.319],[0.231,-0.306],[0.235,-0.268],[0.243,-0.349],[0.256,-0.383],[0.261,-0.34],[0.27,-0.323],[0.278,-0.37],[0.287,-0.34],[0.292,-0.396],[0.304,-0.413],[0.319,-0.383],[0.326,-0.434],[0.335,-0.413],[0.34,-0.477],[0.349,-0.455],[0.357,-0.404],[0.362,-0.379],[0.353,-0.494],[0.331,-0.468],[0.316,-0.455],[0.397,-0.54],[0.41,-0.519],[0.413,-0.477],[0.449,-0.617],[0.514,-0.711],[0.589,-0.775],[0.165,-0.136],[0.147,-0.136],[0.13,-0.115],
  [-0.025,0.04],[-0.02,0.0],[-0.018,0.06],[-0.015,-0.03],[-0.01,0.03],[-0.008,0.07],[-0.005,-0.01],[0,0.05],[0,-0.05],[0.004,0.02],[0.007,0.06],[0.01,-0.03],[0.013,0.01],[0.016,0.05],[0.02,-0.06],[0.022,-0.01],[0.025,0.03],[0.028,-0.09],[0.03,-0.04],[0.033,0.0],[0.036,0.04],[0.04,-0.07],[0.042,-0.02],[0.045,0.02],[0.048,-0.11],[0.05,-0.05],[0.053,-0.01],[0.056,-0.08],[0.06,0.01],[0.062,-0.13],[0.065,-0.04],[0.068,-0.09],[0.07,-0.01],[0.073,-0.06],[0.076,-0.12],[0.08,-0.03],[0.082,-0.08],[0.085,-0.15],[0.088,-0.05],[0.09,-0.1],[0.093,-0.02],[0.096,-0.13],[0.1,-0.07],[0.103,-0.17],[0.106,-0.1],[0.11,-0.04],[0.113,-0.14],[0.116,-0.08],[0.12,-0.18],[0.124,-0.11],[0.128,-0.06],[0.132,-0.15],[0.136,-0.1],[0.14,-0.2],[0.145,-0.13],[0.15,-0.09],[0.155,-0.17],[0.16,-0.12],[0.01,-0.08],[0.03,-0.12],[0.05,-0.15],[0.07,-0.17],[0.09,-0.19],[0.02,0.07],[0.04,0.05],[0.06,0.03],[0.08,0.0],[0.1,-0.01],[0.12,-0.03],[-0.03,0.02]];
const redKCore = [[-0.028,0.03],[-0.023,0.06],[-0.018,0.02],[-0.013,-0.02],[-0.008,0.05],[-0.003,0.01],[0.002,-0.03],[0.005,0.07],[0.008,0.03],[0.011,-0.05],[0.014,0.04],[0.018,0.0],[0.021,-0.04],[0.024,0.06],[0.027,-0.06],[0.031,0.02],[0.034,-0.02],[0.037,-0.09],[0.041,0.0],[0.044,-0.05],[0.047,0.03],[0.051,-0.08],[0.054,-0.03],[0.057,-0.12],[0.061,-0.05],[0.064,-0.01],[0.067,-0.11],[0.071,-0.07],[0.074,-0.03],[0.077,-0.14],[0.081,-0.1],[0.084,-0.05],[0.087,-0.12],[0.091,-0.07],[0.094,-0.16],[0.098,-0.1],[0.101,-0.04],[0.105,-0.13],[0.108,-0.08],[0.112,-0.17],[0.115,-0.11],[0.118,-0.06],[0.122,-0.14],[0.126,-0.09],[0.13,-0.18],[0.134,-0.12],[0.138,-0.16],[0.142,-0.11],[0.147,-0.19],[0.152,-0.14],[0.157,-0.2],[0.162,-0.15],[0.0,-0.08],[0.02,-0.1],[0.04,-0.13],[0.06,-0.16],[0.08,-0.18],[0.01,0.08],[0.03,0.06],[0.05,0.04]];
const greyK = [[0.01,0.128],[-0.046,-0.077],[-0.042,-0.038],[-0.018,-0.106],[0.002,-0.085],[0.007,-0.094],[0.035,-0.191],[0.042,-0.17],[0.056,-0.166],[0.077,0.013],[0.095,0.013],[0.068,0.034],[0.102,-0.017],[0.112,-0.038],[0.126,-0.051],[0.142,-0.06],[0.151,-0.068],[0.17,-0.021],[0.182,-0.106],[0.2,-0.115],[0.208,-0.068],[0.217,-0.136],[0.226,-0.14],[0.243,-0.128],[0.249,-0.115],[0.235,-0.157],[0.252,-0.174],[0.27,-0.153],[0.233,-0.2],[0.208,-0.247],[0.226,-0.234],[0.256,-0.328],[0.247,-0.357],[0.261,-0.391],[0.266,-0.413],[0.289,-0.217],[0.292,-0.234],[0.331,-0.281],[0.354,-0.328],[0.158,-0.421],[0.18,-0.451],[0.284,-0.528],[0.307,-0.536],[0.314,-0.519],[0.3,-0.472],[0.326,-0.587],[0.347,-0.562],[0.361,-0.574],[0.419,-0.289],[0.433,-0.366],[0.443,-0.689],[0.482,-0.745],[0.182,-0.166],[0.2,-0.179],[0.063,-0.009],[0.049,0.009],[0.033,-0.221]];

const redSets = [redU.concat(redUCore), redB.concat(redBCore), redV.concat(redVCore),
  redGG.concat(redGGCore), redSg.concat(redSgCore), redSr.concat(redSrCore),
  redSz.concat(redSzCore), redJ.concat(redJCore), redK.concat(redKCore)];
const greySets = [greyU, greyB, greyV, greyGG, greySg, greySr, greySz, greyJ, greyK];

// layout of the 3x3 grid (pixel boxes)
const colBox = [[39, 306], [354, 622], [668, 936]];
const rowBox = [[4, 166], [192, 354], [379, 542]];
const yLabelGap = [28, 21, 23, 29, 24, 26, 30, 24, 26];

const RED = '#e15b5b', GREY = '#5f5f5f';
const DOT = 2.5;
const svg = d3.select('#chart');
const fmt = v => String(+v.toFixed(3));

function tickRange(dom, step) {
  const lo = Math.ceil(dom[0] / step - 1e-6), hi = Math.floor(dom[1] / step + 1e-6);
  return d3.range(lo, hi + 1).map(k => +(k * step).toFixed(4));
}

function writeLabel(text, band, sub) {
  // E(band - G_RP) (mag); subscripts shifted in px so the baseline comes back exactly
  text.append('tspan').attr('font-style', 'italic').text('E');
  text.append('tspan').text('(');
  text.append('tspan').attr('font-style', 'italic').text(band);
  let back = null;
  if (sub) {
    text.append('tspan').attr('font-size', '11px').attr('dy', 3).text(sub);
    back = -3;
  }
  text.append('tspan').attr('dy', back).text(' \u2212 ');
  text.append('tspan').attr('font-style', 'italic').text('G');
  text.append('tspan').attr('font-size', '11px').attr('dy', 3).text('RP');
  text.append('tspan').attr('dy', -3).text(') (mag)');
}

for (let i = 0; i < 9; i++) {
  const col = i % 3, row = Math.floor(i / 3);
  const [x0, x1] = colBox[col], [y0, y1] = rowBox[row];
  const x = d3.scaleLinear().domain(xDomain).range([x0, x1]);
  const y = d3.scaleLinear().domain(yDomains[i]).range([y1, y0]);
  const g = svg.append('g').attr('class', 'panel');

  const clipId = 'clip' + i;
  svg.append('clipPath').attr('id', clipId)
    .append('rect').attr('x', x0).attr('y', y0).attr('width', x1 - x0).attr('height', y1 - y0);

  const plot = g.append('g').attr('clip-path', `url(#${clipId})`);
  plot.append('g').selectAll('circle').data(redSets[i]).join('circle')
    .attr('cx', d => x(d[0])).attr('cy', d => y(d[1])).attr('r', DOT).attr('fill', RED);
  plot.append('g').selectAll('circle').data(greySets[i]).join('circle')
    .attr('cx', d => x(d[0])).attr('cy', d => y(d[1])).attr('r', DOT).attr('fill', GREY);

  const fit = xDomain.map(v => [v, slopes[i] * v + intercepts[i]]);
  plot.append('path')
    .attr('d', d3.line().x(d => x(d[0])).y(d => y(d[1]))(fit))
    .attr('fill', 'none').attr('stroke', '#000').attr('stroke-width', 2.6);

  // axes: inward ticks on all four sides
  const xMaj = tickRange(xDomain, 0.1), xMin = tickRange(xDomain, 0.02);
  const yMaj = tickRange(yDomains[i], yMajorStep[i]), yMin = tickRange(yDomains[i], yMinorStep[i]);
  const ylab = yTickLabels[i];

  const addAxis = (axis, tx, ty) => {
    const a = g.append('g').attr('transform', `translate(${tx},${ty})`).call(axis);
    a.select('.domain').remove();
    return a;
  };
  addAxis(d3.axisBottom(x).tickValues(xMin).tickSize(-2.5).tickFormat(''), 0, y1);
  const xa = addAxis(d3.axisBottom(x).tickValues(xMaj).tickSize(-4.5).tickPadding(4)
    .tickFormat(d => xTickLabels.includes(d) ? fmt(d) : ''), 0, y1);
  if (col === 2) xa.selectAll('.tick text').filter(d => d === 0.6).attr('dx', -3);
  addAxis(d3.axisTop(x).tickValues(xMin).tickSize(-2.5).tickFormat(''), 0, y0);
  addAxis(d3.axisTop(x).tickValues(xMaj).tickSize(-4.5).tickFormat(''), 0, y0);
  addAxis(d3.axisLeft(y).tickValues(yMin).tickSize(-2.5).tickFormat(''), x0, 0);
  addAxis(d3.axisLeft(y).tickValues(yMaj).tickSize(-4.5).tickPadding(5)
    .tickFormat(d => ylab.includes(d) ? fmt(d) : ''), x0, 0);
  addAxis(d3.axisRight(y).tickValues(yMin).tickSize(-2.5).tickFormat(''), x1, 0);
  addAxis(d3.axisRight(y).tickValues(yMaj).tickSize(-4.5).tickFormat(''), x1, 0);

  g.append('rect').attr('x', x0).attr('y', y0).attr('width', x1 - x0).attr('height', y1 - y0)
    .attr('fill', 'none').attr('stroke', '#000').attr('stroke-width', 1.8);

  const ty = g.append('text').attr('class', 'lbl')
    .attr('transform', `translate(${x0 - yLabelGap[i]},${(y0 + y1) / 2}) rotate(-90)`)
    .attr('text-anchor', 'middle').attr('dy', '0.35em');
  writeLabel(ty, bandNames[i], bandSubs[i]);

  if (row === 2) {
    const tx = g.append('text').attr('class', 'lbl')
      .attr('x', (x0 + x1) / 2).attr('y', 567).attr('text-anchor', 'middle');
    writeLabel(tx, 'G', 'BP');
  }
}
</script>
</body>
</html>
